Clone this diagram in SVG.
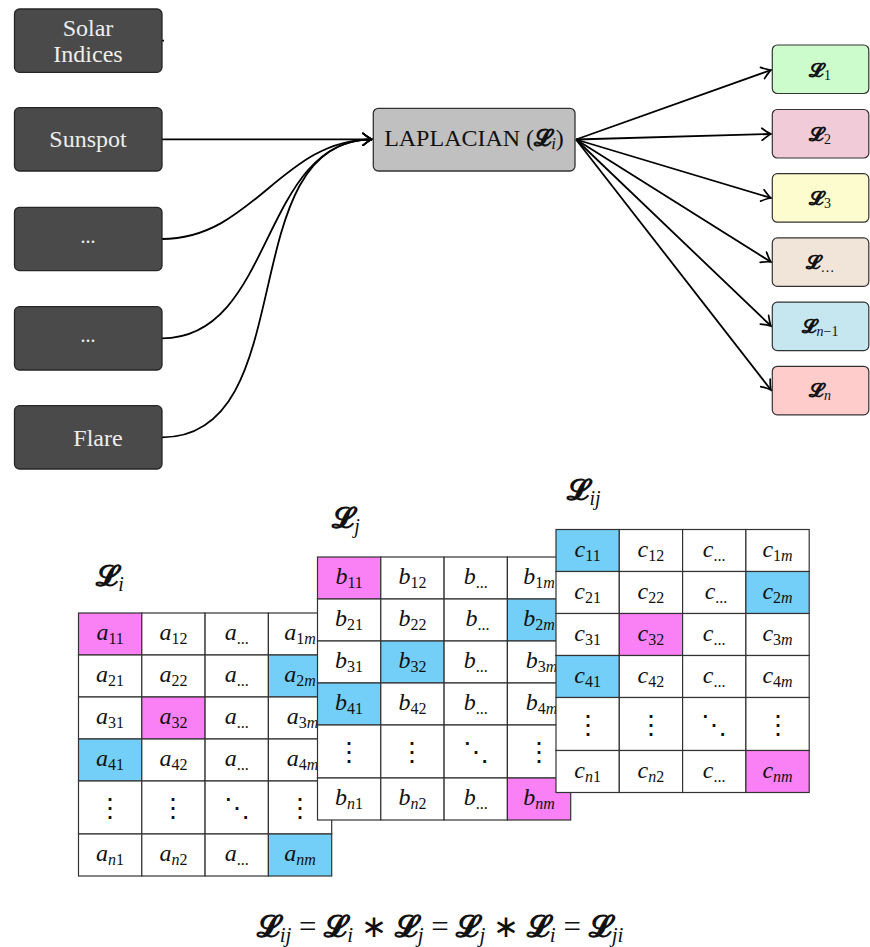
<svg xmlns="http://www.w3.org/2000/svg" width="870" height="947" viewBox="0 0 870 947">
<defs>
<style>
.src rect{fill:#4a4a4a;stroke:#262626;stroke-width:1.3}
.src text{font-family:"Liberation Serif","Times New Roman",serif;font-size:24px;fill:#eeeeee;text-anchor:middle}
.lap rect{fill:#c0c0c0;stroke:#333;stroke-width:1.3}
.out rect{stroke:#333;stroke-width:1.2}
.lbl{font-family:"Liberation Serif","Times New Roman",serif;fill:#111;text-anchor:middle}
.L{font-family:"DejaVu Serif","DejaVu Sans","Noto Sans",serif;font-weight:bold}
.it{font-style:italic}
.conn path,.conn line{fill:none;stroke:#000;stroke-width:1.8}
.cell{fill:#fff;stroke:#333;stroke-width:1.2}
.pk{fill:#fa80f5}
.bl{fill:#73cff7}
.m{font-family:"Liberation Serif","Times New Roman",serif;font-style:italic;font-size:24px;fill:#111;text-anchor:middle}
.m .s{font-size:16px;font-style:normal}
.m .s .it{font-style:italic}
.dots{font-family:"DejaVu Serif",serif;font-size:26px;fill:#111;text-anchor:middle}
</style>
<marker id="arr" viewBox="-11 -7 13 14" refX="0" refY="0" markerWidth="13" markerHeight="14" orient="auto" markerUnits="userSpaceOnUse">
<path d="M-9,-6 Q-3,-1.2 0,0 Q-3,1.2 -9,6" fill="none" stroke="#000" stroke-width="1.7" stroke-linecap="round"/>
</marker>
</defs>
<rect width="870" height="947" fill="#fff"/>

<g class="conn" id="connectors">
<line x1="162" y1="40.7" x2="164" y2="40.7"/>
<path d="M162,139.3 L372,139.3" marker-end="url(#arr)"/>
<path d="M162,239 C253.1,239 281.9,139.3 372,139.3" marker-end="url(#arr)"/>
<path d="M162,338.3 C275.3,338.3 259.7,139.3 372,139.3" marker-end="url(#arr)"/>
<path d="M162,437.3 C304.6,437.3 230.4,139.3 372,139.3" marker-end="url(#arr)"/>
<path d="M576,139.5 L771,70" marker-end="url(#arr)"/>
<path d="M576,139.5 L771,134" marker-end="url(#arr)"/>
<path d="M576,139.5 L771,198" marker-end="url(#arr)"/>
<path d="M576,139.5 L771,262" marker-end="url(#arr)"/>
<path d="M576,139.5 L771,326" marker-end="url(#arr)"/>
<path d="M576,139.5 L771,390" marker-end="url(#arr)"/>
</g>

<g class="src" id="node-solar"><rect x="14.5" y="9" width="147.5" height="63.3" rx="5"/><text x="88" y="35.7">Solar</text><text x="88" y="62.3">Indices</text></g>
<g class="src" id="node-sunspot"><rect x="14.5" y="107.7" width="147.5" height="63.3" rx="5"/><text x="88" y="146.7">Sunspot</text></g>
<g class="src" id="node-dots1"><rect x="14.5" y="207.3" width="147.5" height="63.3" rx="5"/><text x="88" y="243" style="font-size:20px">...</text></g>
<g class="src" id="node-dots2"><rect x="14.5" y="306.7" width="147.5" height="63.3" rx="5"/><text x="88" y="342" style="font-size:20px">...</text></g>
<g class="src" id="node-flare"><rect x="14.5" y="405.7" width="147.5" height="63.3" rx="5"/><text x="98" y="446">Flare</text></g>

<g class="lap" id="node-laplacian"><rect x="373.3" y="108.3" width="201.7" height="62.7" rx="5"/>
<text class="lbl" x="474" y="146" font-size="24">LAPLACIAN (<tspan class="L">𝓛</tspan><tspan class="it" font-size="17" dy="3">i</tspan><tspan dy="-3">)</tspan></text></g>

<g class="out" id="node-L1"><rect x="772.3" y="45" width="96.5" height="48.5" rx="5" fill="#ccfccc"/><text class="lbl" x="820" y="77" font-size="20"><tspan class="L">𝓛</tspan><tspan font-size="14" dy="3">1</tspan></text></g>
<g class="out" id="node-L2"><rect x="772.3" y="109.5" width="96.5" height="48.5" rx="5" fill="#f2cbd8"/><text class="lbl" x="820" y="141" font-size="20"><tspan class="L">𝓛</tspan><tspan font-size="14" dy="3">2</tspan></text></g>
<g class="out" id="node-L3"><rect x="772.3" y="173.7" width="96.5" height="48.5" rx="5" fill="#fdfccf"/><text class="lbl" x="820" y="205" font-size="20"><tspan class="L">𝓛</tspan><tspan font-size="14" dy="3">3</tspan></text></g>
<g class="out" id="node-Ldots"><rect x="772.3" y="237.9" width="96.5" height="48.5" rx="5" fill="#f1e5d9"/><text class="lbl" x="820" y="269" font-size="20"><tspan class="L">𝓛</tspan><tspan font-size="14" dy="3">…</tspan></text></g>
<g class="out" id="node-Ln1"><rect x="772.3" y="302.1" width="96.5" height="48.5" rx="5" fill="#c6e6f0"/><text class="lbl" x="820" y="333" font-size="20"><tspan class="L">𝓛</tspan><tspan font-size="14" dy="3"><tspan class="it">n</tspan>−1</tspan></text></g>
<g class="out" id="node-Ln"><rect x="772.3" y="366.3" width="96.5" height="48.5" rx="5" fill="#ffcccc"/><text class="lbl" x="820" y="397" font-size="20"><tspan class="L">𝓛</tspan><tspan class="it" font-size="14" dy="3">n</tspan></text></g>

<!-- Matrix Li -->
<g id="matrix-Li">
<text class="lbl" x="110" y="586" font-size="30"><tspan class="L">𝓛</tspan><tspan class="it" font-size="20" dy="5">i</tspan></text>
<g transform="translate(78.5,613)">
<rect class="cell pk" x="0" y="0" width="63.3" height="42"/><rect class="cell" x="63.3" y="0" width="63.3" height="42"/><rect class="cell" x="126.6" y="0" width="63.3" height="42"/><rect class="cell" x="189.9" y="0" width="63.3" height="42"/>
<rect class="cell" x="0" y="42" width="63.3" height="42"/><rect class="cell" x="63.3" y="42" width="63.3" height="42"/><rect class="cell" x="126.6" y="42" width="63.3" height="42"/><rect class="cell bl" x="189.9" y="42" width="63.3" height="42"/>
<rect class="cell" x="0" y="84" width="63.3" height="42"/><rect class="cell pk" x="63.3" y="84" width="63.3" height="42"/><rect class="cell" x="126.6" y="84" width="63.3" height="42"/><rect class="cell" x="189.9" y="84" width="63.3" height="42"/>
<rect class="cell bl" x="0" y="126" width="63.3" height="42"/><rect class="cell" x="63.3" y="126" width="63.3" height="42"/><rect class="cell" x="126.6" y="126" width="63.3" height="42"/><rect class="cell" x="189.9" y="126" width="63.3" height="42"/>
<rect class="cell" x="0" y="168" width="63.3" height="53"/><rect class="cell" x="63.3" y="168" width="63.3" height="53"/><rect class="cell" x="126.6" y="168" width="63.3" height="53"/><rect class="cell" x="189.9" y="168" width="63.3" height="53"/>
<rect class="cell" x="0" y="221" width="63.3" height="42"/><rect class="cell" x="63.3" y="221" width="63.3" height="42"/><rect class="cell" x="126.6" y="221" width="63.3" height="42"/><rect class="cell bl" x="189.9" y="221" width="63.3" height="42"/>
<text class="m" x="31.6" y="27">a<tspan class="s" dy="4">11</tspan></text><text class="m" x="94.9" y="27">a<tspan class="s" dy="4">12</tspan></text><text class="m" x="158.2" y="27">a<tspan class="s" dy="4">...</tspan></text><text class="m" x="221.5" y="27">a<tspan class="s" dy="4">1<tspan class="it">m</tspan></tspan></text>
<text class="m" x="31.6" y="69">a<tspan class="s" dy="4">21</tspan></text><text class="m" x="94.9" y="69">a<tspan class="s" dy="4">22</tspan></text><text class="m" x="158.2" y="69">a<tspan class="s" dy="4">...</tspan></text><text class="m" x="221.5" y="69">a<tspan class="s" dy="4">2<tspan class="it">m</tspan></tspan></text>
<text class="m" x="31.6" y="111">a<tspan class="s" dy="4">31</tspan></text><text class="m" x="94.9" y="111">a<tspan class="s" dy="4">32</tspan></text><text class="m" x="158.2" y="111">a<tspan class="s" dy="4">...</tspan></text><text class="m" x="224" y="111">a<tspan class="s" dy="4">3<tspan class="it">m</tspan></tspan></text>
<text class="m" x="31.6" y="153">a<tspan class="s" dy="4">41</tspan></text><text class="m" x="94.9" y="153">a<tspan class="s" dy="4">42</tspan></text><text class="m" x="158.2" y="153">a<tspan class="s" dy="4">...</tspan></text><text class="m" x="224" y="153">a<tspan class="s" dy="4">4<tspan class="it">m</tspan></tspan></text>
<text class="dots" x="31.6" y="204">⋮</text><text class="dots" x="94.9" y="204">⋮</text><text class="dots" x="158.2" y="204">⋱</text><text class="dots" x="221.5" y="204">⋮</text>
<text class="m" x="31.6" y="248">a<tspan class="s" dy="4"><tspan class="it">n</tspan>1</tspan></text><text class="m" x="94.9" y="248">a<tspan class="s" dy="4"><tspan class="it">n</tspan>2</tspan></text><text class="m" x="158.2" y="248">a<tspan class="s" dy="4">...</tspan></text><text class="m" x="221.5" y="248">a<tspan class="s" dy="4"><tspan class="it">nm</tspan></tspan></text>
</g>
</g>

<!-- Matrix Lj -->
<g id="matrix-Lj">
<text class="lbl" x="346" y="528" font-size="30"><tspan class="L">𝓛</tspan><tspan class="it" font-size="20" dy="5">j</tspan></text>
<g transform="translate(317.5,557)">
<rect class="cell pk" x="0" y="0" width="63.3" height="42"/><rect class="cell" x="63.3" y="0" width="63.3" height="42"/><rect class="cell" x="126.6" y="0" width="63.3" height="42"/><rect class="cell" x="189.9" y="0" width="63.3" height="42"/>
<rect class="cell" x="0" y="42" width="63.3" height="42"/><rect class="cell" x="63.3" y="42" width="63.3" height="42"/><rect class="cell" x="126.6" y="42" width="63.3" height="42"/><rect class="cell bl" x="189.9" y="42" width="63.3" height="42"/>
<rect class="cell" x="0" y="84" width="63.3" height="42"/><rect class="cell bl" x="63.3" y="84" width="63.3" height="42"/><rect class="cell" x="126.6" y="84" width="63.3" height="42"/><rect class="cell" x="189.9" y="84" width="63.3" height="42"/>
<rect class="cell bl" x="0" y="126" width="63.3" height="42"/><rect class="cell" x="63.3" y="126" width="63.3" height="42"/><rect class="cell" x="126.6" y="126" width="63.3" height="42"/><rect class="cell" x="189.9" y="126" width="63.3" height="42"/>
<rect class="cell" x="0" y="168" width="63.3" height="53"/><rect class="cell" x="63.3" y="168" width="63.3" height="53"/><rect class="cell" x="126.6" y="168" width="63.3" height="53"/><rect class="cell" x="189.9" y="168" width="63.3" height="53"/>
<rect class="cell" x="0" y="221" width="63.3" height="42"/><rect class="cell" x="63.3" y="221" width="63.3" height="42"/><rect class="cell" x="126.6" y="221" width="63.3" height="42"/><rect class="cell pk" x="189.9" y="221" width="63.3" height="42"/>
<text class="m" x="31.6" y="27">b<tspan class="s" dy="4">11</tspan></text><text class="m" x="94.9" y="27">b<tspan class="s" dy="4">12</tspan></text><text class="m" x="158.2" y="27">b<tspan class="s" dy="4">...</tspan></text><text class="m" x="221.5" y="27">b<tspan class="s" dy="4">1<tspan class="it">m</tspan></tspan></text>
<text class="m" x="31.6" y="69">b<tspan class="s" dy="4">21</tspan></text><text class="m" x="94.9" y="69">b<tspan class="s" dy="4">22</tspan></text><text class="m" x="160" y="69">b<tspan class="s" dy="4">...</tspan></text><text class="m" x="221.5" y="69">b<tspan class="s" dy="4">2<tspan class="it">m</tspan></tspan></text>
<text class="m" x="31.6" y="111">b<tspan class="s" dy="4">31</tspan></text><text class="m" x="94.9" y="111">b<tspan class="s" dy="4">32</tspan></text><text class="m" x="158.2" y="111">b<tspan class="s" dy="4">...</tspan></text><text class="m" x="224" y="111">b<tspan class="s" dy="4">3<tspan class="it">m</tspan></tspan></text>
<text class="m" x="31.6" y="153">b<tspan class="s" dy="4">41</tspan></text><text class="m" x="94.9" y="153">b<tspan class="s" dy="4">42</tspan></text><text class="m" x="158.2" y="153">b<tspan class="s" dy="4">...</tspan></text><text class="m" x="224" y="153">b<tspan class="s" dy="4">4<tspan class="it">m</tspan></tspan></text>
<text class="dots" x="31.6" y="204">⋮</text><text class="dots" x="94.9" y="204">⋮</text><text class="dots" x="158.2" y="204">⋱</text><text class="dots" x="221.5" y="204">⋮</text>
<text class="m" x="31.6" y="248">b<tspan class="s" dy="4"><tspan class="it">n</tspan>1</tspan></text><text class="m" x="94.9" y="248">b<tspan class="s" dy="4"><tspan class="it">n</tspan>2</tspan></text><text class="m" x="158.2" y="248">b<tspan class="s" dy="4">...</tspan></text><text class="m" x="221.5" y="248">b<tspan class="s" dy="4"><tspan class="it">nm</tspan></tspan></text>
</g>
</g>

<!-- Matrix Lij -->
<g id="matrix-Lij">
<text class="lbl" x="584" y="500" font-size="30"><tspan class="L">𝓛</tspan><tspan class="it" font-size="20" dy="5">ij</tspan></text>
<g transform="translate(556,529.5)">
<rect class="cell bl" x="0" y="0" width="63.3" height="42"/><rect class="cell" x="63.3" y="0" width="63.3" height="42"/><rect class="cell" x="126.6" y="0" width="63.3" height="42"/><rect class="cell" x="189.9" y="0" width="63.3" height="42"/>
<rect class="cell" x="0" y="42" width="63.3" height="42"/><rect class="cell" x="63.3" y="42" width="63.3" height="42"/><rect class="cell" x="126.6" y="42" width="63.3" height="42"/><rect class="cell bl" x="189.9" y="42" width="63.3" height="42"/>
<rect class="cell" x="0" y="84" width="63.3" height="42"/><rect class="cell pk" x="63.3" y="84" width="63.3" height="42"/><rect class="cell" x="126.6" y="84" width="63.3" height="42"/><rect class="cell" x="189.9" y="84" width="63.3" height="42"/>
<rect class="cell bl" x="0" y="126" width="63.3" height="42"/><rect class="cell" x="63.3" y="126" width="63.3" height="42"/><rect class="cell" x="126.6" y="126" width="63.3" height="42"/><rect class="cell" x="189.9" y="126" width="63.3" height="42"/>
<rect class="cell" x="0" y="168" width="63.3" height="53"/><rect class="cell" x="63.3" y="168" width="63.3" height="53"/><rect class="cell" x="126.6" y="168" width="63.3" height="53"/><rect class="cell" x="189.9" y="168" width="63.3" height="53"/>
<rect class="cell" x="0" y="221" width="63.3" height="42"/><rect class="cell" x="63.3" y="221" width="63.3" height="42"/><rect class="cell" x="126.6" y="221" width="63.3" height="42"/><rect class="cell pk" x="189.9" y="221" width="63.3" height="42"/>
<text class="m" x="31.6" y="27">c<tspan class="s" dy="4">11</tspan></text><text class="m" x="94.9" y="27">c<tspan class="s" dy="4">12</tspan></text><text class="m" x="158.2" y="27">c<tspan class="s" dy="4">...</tspan></text><text class="m" x="221.5" y="27">c<tspan class="s" dy="4">1<tspan class="it">m</tspan></tspan></text>
<text class="m" x="31.6" y="69">c<tspan class="s" dy="4">21</tspan></text><text class="m" x="94.9" y="69">c<tspan class="s" dy="4">22</tspan></text><text class="m" x="160" y="69">c<tspan class="s" dy="4">...</tspan></text><text class="m" x="221.5" y="69">c<tspan class="s" dy="4">2<tspan class="it">m</tspan></tspan></text>
<text class="m" x="31.6" y="111">c<tspan class="s" dy="4">31</tspan></text><text class="m" x="94.9" y="111">c<tspan class="s" dy="4">32</tspan></text><text class="m" x="158.2" y="111">c<tspan class="s" dy="4">...</tspan></text><text class="m" x="221.5" y="111">c<tspan class="s" dy="4">3<tspan class="it">m</tspan></tspan></text>
<text class="m" x="31.6" y="153">c<tspan class="s" dy="4">41</tspan></text><text class="m" x="94.9" y="153">c<tspan class="s" dy="4">42</tspan></text><text class="m" x="158.2" y="153">c<tspan class="s" dy="4">...</tspan></text><text class="m" x="221.5" y="153">c<tspan class="s" dy="4">4<tspan class="it">m</tspan></tspan></text>
<text class="dots" x="31.6" y="204">⋮</text><text class="dots" x="94.9" y="204">⋮</text><text class="dots" x="158.2" y="204">⋱</text><text class="dots" x="221.5" y="204">⋮</text>
<text class="m" x="31.6" y="248">c<tspan class="s" dy="4"><tspan class="it">n</tspan>1</tspan></text><text class="m" x="94.9" y="248">c<tspan class="s" dy="4"><tspan class="it">n</tspan>2</tspan></text><text class="m" x="158.2" y="248">c<tspan class="s" dy="4">...</tspan></text><text class="m" x="221.5" y="248">c<tspan class="s" dy="4"><tspan class="it">nm</tspan></tspan></text>
</g>
</g>

<g id="formula">
<text class="lbl" x="440" y="937" font-size="31"><tspan class="L">𝓛</tspan><tspan class="it" font-size="21" dy="5">ij</tspan><tspan dy="-5"> = </tspan><tspan class="L">𝓛</tspan><tspan class="it" font-size="21" dy="5">i</tspan><tspan dy="-5"> ∗ </tspan><tspan class="L">𝓛</tspan><tspan class="it" font-size="21" dy="5">j</tspan><tspan dy="-5"> = </tspan><tspan class="L">𝓛</tspan><tspan class="it" font-size="21" dy="5">j</tspan><tspan dy="-5"> ∗ </tspan><tspan class="L">𝓛</tspan><tspan class="it" font-size="21" dy="5">i</tspan><tspan dy="-5"> = </tspan><tspan class="L">𝓛</tspan><tspan class="it" font-size="21" dy="5">ji</tspan></text>
</g>
</svg>
